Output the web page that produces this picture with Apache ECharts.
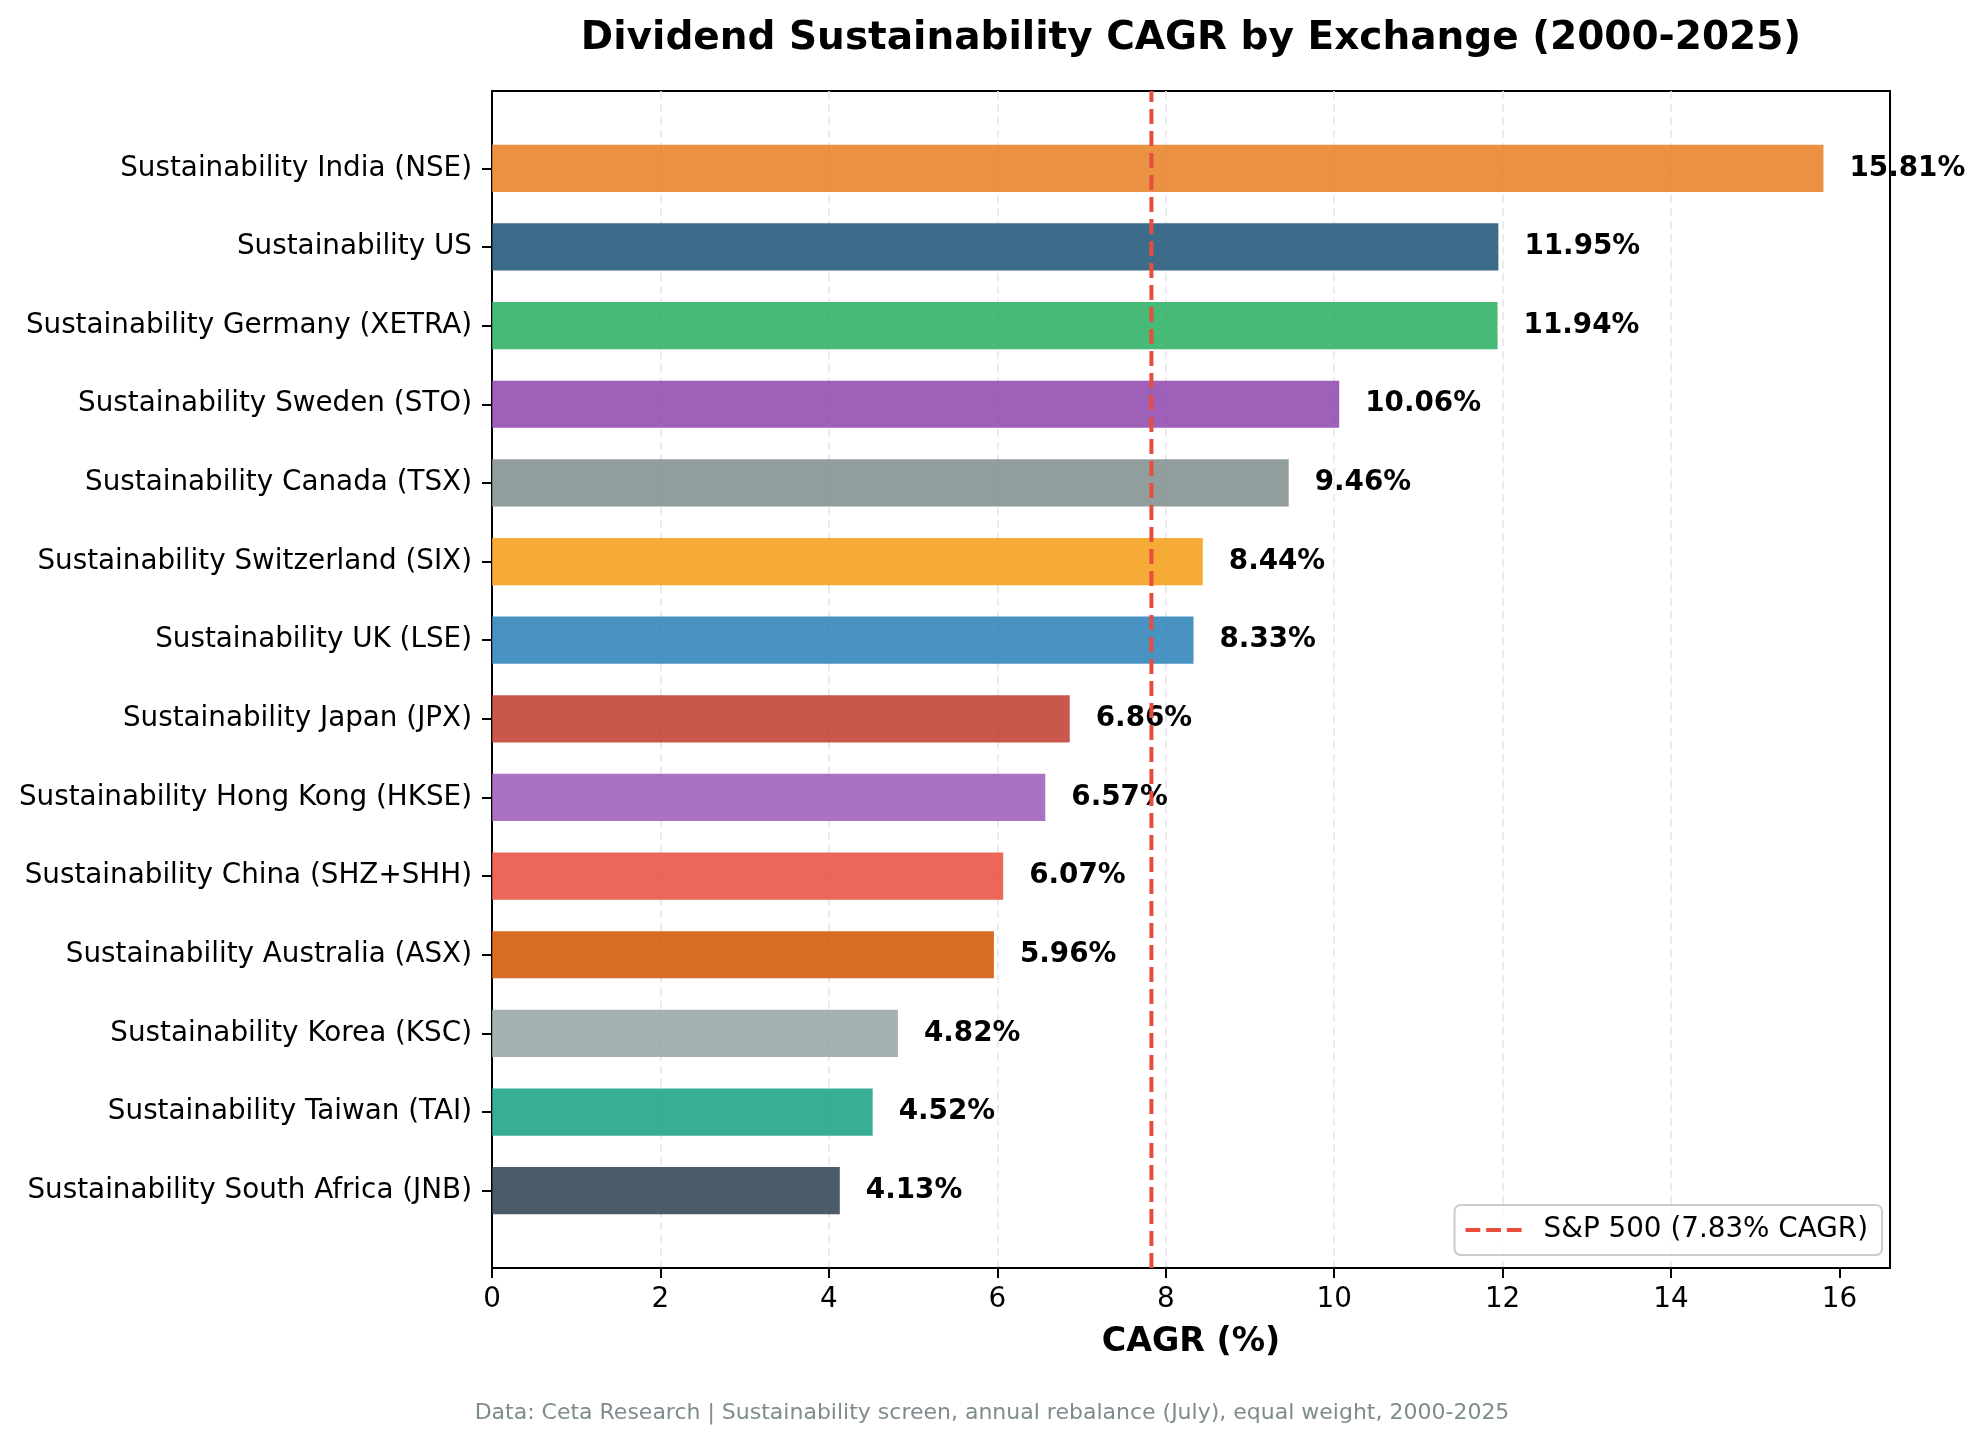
<!DOCTYPE html>
<html>
<head>
<meta charset="utf-8">
<script src="https://cdn.jsdelivr.net/npm/echarts@6/dist/echarts.min.js"></script>
<style>
html,body{margin:0;padding:0;background:#fff;}
#chart{width:1984px;height:1443px;}
</style>
</head>
<body>
<div id="chart"></div>
<script>
// ---- data ----
const categories = [
  'Sustainability India (NSE)',
  'Sustainability US',
  'Sustainability Germany (XETRA)',
  'Sustainability Sweden (STO)',
  'Sustainability Canada (TSX)',
  'Sustainability Switzerland (SIX)',
  'Sustainability UK (LSE)',
  'Sustainability Japan (JPX)',
  'Sustainability Hong Kong (HKSE)',
  'Sustainability China (SHZ+SHH)',
  'Sustainability Australia (ASX)',
  'Sustainability Korea (KSC)',
  'Sustainability Taiwan (TAI)',
  'Sustainability South Africa (JNB)'
];
const cagrValues = [15.81, 11.95, 11.94, 10.06, 9.46, 8.44, 8.33, 6.86, 6.57, 6.07, 5.96, 4.82, 4.52, 4.13];
const barColors = ['#e67e22', '#1a5276', '#27ae60', '#8e44ad', '#7f8c8d', '#f39c12', '#2980b9',
                   '#c0392b', '#9b59b6', '#e74c3c', '#d35400', '#95a5a6', '#16a085', '#2c3e50'];
const benchmarkValue = 7.83;
const benchmarkName = 'S&P 500 (7.83% CAGR)';
const xTicks = [0, 2, 4, 6, 8, 10, 12, 14, 16];
const xMax = 16.6;

const chart = echarts.init(document.getElementById('chart'), null, {renderer: 'canvas'});
const FONT = 'DejaVu Sans';

const option = {
  animation: false,
  backgroundColor: '#ffffff',
  textStyle: {fontFamily: FONT},
  title: [{
    text: 'Data: Ceta Research | Sustainability screen, annual rebalance (July), equal weight, 2000-2025',
    left: 'center',
    bottom: 19,
    padding: 0,
    textStyle: {fontFamily: FONT, fontSize: 22, fontWeight: 'normal', color: '#7f8c8d'}
  }],
  graphic: [{
    type: 'text',
    x: 1191,
    y: 39,
    style: {
      text: 'Dividend Sustainability CAGR by Exchange (2000-2025)',
      font: 'bold 39px "DejaVu Sans"',
      fill: '#000',
      textAlign: 'center',
      textVerticalAlign: 'middle'
    }
  }],
  legend: {
    data: [{
      name: benchmarkName,
      icon: 'path://M0,0L15,0L15,4L0,4Z M21,0L36,0L36,4L21,4Z M42,0L57,0L57,4L42,4Z'
    }],
    right: 102,
    bottom: 188,
    orient: 'vertical',
    backgroundColor: 'rgba(255,255,255,0.8)',
    borderColor: '#cccccc',
    borderWidth: 2,
    borderRadius: 6,
    padding: [11, 14, 11, 11],
    itemWidth: 56,
    itemHeight: 4,
    itemStyle: {color: '#e74c3c', borderWidth: 0},
    textStyle: {fontFamily: FONT, fontSize: 27.8, color: '#000', padding: [0, 0, 0, 17]}
  },
  grid: [
    {left: 492, right: 94, top: 91, bottom: 175, show: true, borderColor: '#000', borderWidth: 2, backgroundColor: 'transparent', containLabel: false},
    {left: 492, right: 94, top: 129, bottom: 213, containLabel: false}
  ],
  xAxis: [
    {
      gridIndex: 0,
      type: 'value',
      min: 0,
      max: xMax,
      interval: 2,
      name: 'CAGR (%)',
      nameLocation: 'middle',
      nameGap: 58,
      nameTextStyle: {fontFamily: FONT, fontSize: 33.3, fontWeight: 'bold', color: '#000'},
      axisLine: {show: true, lineStyle: {color: '#000', width: 2}},
      axisTick: {show: true, inside: false, length: 10, customValues: xTicks, lineStyle: {color: '#000', width: 2}},
      axisLabel: {
        fontFamily: FONT, fontSize: 27.8, color: '#000', margin: 18,
        customValues: xTicks,
        formatter: v => String(v)
      },
      splitLine: {show: true, showMinLine: false, showMaxLine: false, lineStyle: {color: '#e6e6e6', width: 1.6, type: [8, 5]}}
    },
    {
      gridIndex: 1,
      type: 'value',
      min: 0,
      max: xMax,
      show: false,
      splitLine: {show: false}
    }
  ],
  yAxis: [
    {
      gridIndex: 0,
      type: 'value',
      min: 0,
      max: 1,
      show: false,
      splitLine: {show: false}
    },
    {
      gridIndex: 1,
      type: 'category',
      inverse: true,
      data: categories,
      boundaryGap: true,
      axisLine: {show: false},
      axisTick: {show: true, alignWithLabel: true, length: 10, lineStyle: {color: '#000', width: 2}},
      axisLabel: {fontFamily: FONT, fontSize: 27.8, color: '#000', margin: 20, interval: 0, padding: [5, 0, 0, 0]},
      splitLine: {show: false}
    }
  ],
  series: [
    {
      type: 'bar',
      xAxisIndex: 1,
      yAxisIndex: 1,
      barWidth: '60%',
      z: 2,
      data: cagrValues.map((v, i) => ({
        value: v,
        itemStyle: {color: barColors[i], opacity: 0.85}
      })),
      label: {
        show: true,
        position: 'right',
        distance: 26,
        fontFamily: FONT,
        fontSize: 27.8,
        fontWeight: 'bold',
        color: '#000000',
        opacity: 1,
        padding: [5, 0, 0, 0],
        formatter: p => p.value.toFixed(2) + '%'
      }
    },
    {
      type: 'line',
      name: benchmarkName,
      xAxisIndex: 0,
      yAxisIndex: 0,
      z: 5,
      symbol: 'none',
      data: [[benchmarkValue, 0], [benchmarkValue, 1]],
      lineStyle: {color: '#e74c3c', width: 4, type: [15, 7]},
      itemStyle: {color: '#e74c3c'}
    }
  ]
};
chart.setOption(option);
</script>
</body>
</html>
